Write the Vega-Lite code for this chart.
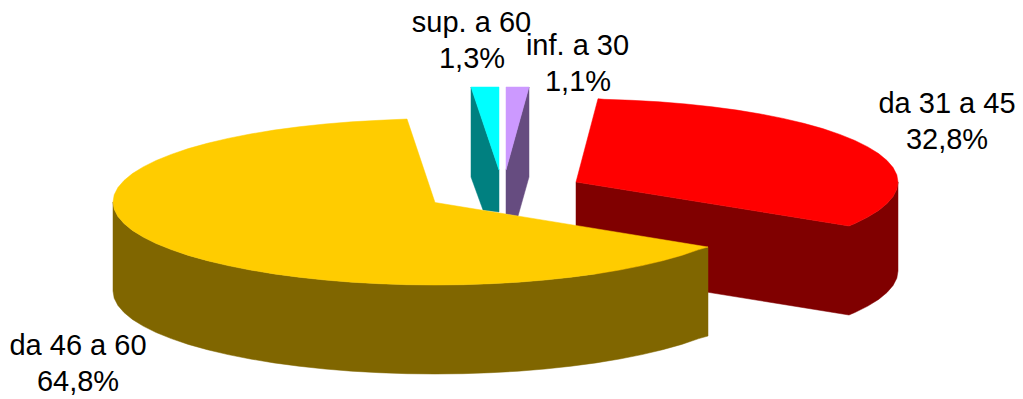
{"$schema":"https://vega.github.io/schema/vega-lite/v6.json","width":1023,"height":399,"padding":0,"autosize":{"type":"fit","contains":"padding"},"background":"white","view":{"stroke":null},
"layer":[
{"data":{"values":[
{"p":"r2","i":0,"x":576,"y":182},{"p":"r2","i":1,"x":849,"y":226},{"p":"r2","i":2,"x":854.9,"y":223.5},{"p":"r2","i":3,"x":867.8,"y":217.1},{"p":"r2","i":4,"x":878.6,"y":210.4},{"p":"r2","i":5,"x":887,"y":203.5},{"p":"r2","i":6,"x":893.1,"y":196.4},{"p":"r2","i":7,"x":896.8,"y":189.2},{"p":"r2","i":8,"x":898,"y":182},{"p":"r2","i":9,"x":898,"y":271},{"p":"r2","i":10,"x":896.8,"y":278.2},{"p":"r2","i":11,"x":893.1,"y":285.4},{"p":"r2","i":12,"x":887,"y":292.5},{"p":"r2","i":13,"x":878.6,"y":299.4},{"p":"r2","i":14,"x":867.8,"y":306.1},{"p":"r2","i":15,"x":854.9,"y":312.5},{"p":"r2","i":16,"x":849,"y":315},{"p":"r2","i":17,"x":576,"y":271},{"p":"r2","i":18,"x":576,"y":182},
{"p":"r1","i":0,"x":576,"y":182},{"p":"r1","i":1,"x":598,"y":98.7},{"p":"r1","i":2,"x":604.1,"y":99.3},{"p":"r1","i":3,"x":631.9,"y":100.3},{"p":"r1","i":4,"x":659.3,"y":101.8},{"p":"r1","i":5,"x":686.1,"y":104},{"p":"r1","i":6,"x":712.1,"y":106.8},{"p":"r1","i":7,"x":737,"y":110.1},{"p":"r1","i":8,"x":760.7,"y":114},{"p":"r1","i":9,"x":783,"y":118.4},{"p":"r1","i":10,"x":803.7,"y":123.3},{"p":"r1","i":11,"x":822.7,"y":128.6},{"p":"r1","i":12,"x":839.8,"y":134.4},{"p":"r1","i":13,"x":854.9,"y":140.5},{"p":"r1","i":14,"x":867.8,"y":146.9},{"p":"r1","i":15,"x":878.6,"y":153.6},{"p":"r1","i":16,"x":887,"y":160.5},{"p":"r1","i":17,"x":893.1,"y":167.6},{"p":"r1","i":18,"x":896.8,"y":174.8},{"p":"r1","i":19,"x":898,"y":182},{"p":"r1","i":20,"x":896.8,"y":189.2},{"p":"r1","i":21,"x":893.1,"y":196.4},{"p":"r1","i":22,"x":887,"y":203.5},{"p":"r1","i":23,"x":878.6,"y":210.4},{"p":"r1","i":24,"x":867.8,"y":217.1},{"p":"r1","i":25,"x":854.9,"y":223.5},{"p":"r1","i":26,"x":849,"y":226},{"p":"r1","i":27,"x":576,"y":182},
{"p":"c2","i":0,"x":471,"y":87},{"p":"c2","i":1,"x":499,"y":170},{"p":"c2","i":2,"x":499,"y":212},{"p":"c2","i":3,"x":483,"y":210},{"p":"c2","i":4,"x":471,"y":177},{"p":"c2","i":5,"x":471,"y":87},
{"p":"c1","i":0,"x":471,"y":87},{"p":"c1","i":1,"x":499,"y":87},{"p":"c1","i":2,"x":499,"y":170},{"p":"c1","i":3,"x":471,"y":87},
{"p":"v2","i":0,"x":529,"y":87},{"p":"v2","i":1,"x":529,"y":177},{"p":"v2","i":2,"x":518,"y":216},{"p":"v2","i":3,"x":506,"y":214},{"p":"v2","i":4,"x":506,"y":170},{"p":"v2","i":5,"x":529,"y":87},
{"p":"v1","i":0,"x":506,"y":87},{"p":"v1","i":1,"x":529,"y":87},{"p":"v1","i":2,"x":506,"y":170},{"p":"v1","i":3,"x":506,"y":87},
{"p":"y2","i":0,"x":113,"y":202},{"p":"y2","i":1,"x":114.2,"y":209.2},{"p":"y2","i":2,"x":117.9,"y":216.4},{"p":"y2","i":3,"x":124,"y":223.5},{"p":"y2","i":4,"x":132.4,"y":230.4},{"p":"y2","i":5,"x":143.2,"y":237.1},{"p":"y2","i":6,"x":156.1,"y":243.5},{"p":"y2","i":7,"x":171.2,"y":249.6},{"p":"y2","i":8,"x":188.3,"y":255.4},{"p":"y2","i":9,"x":207.3,"y":260.7},{"p":"y2","i":10,"x":228,"y":265.6},{"p":"y2","i":11,"x":250.3,"y":270},{"p":"y2","i":12,"x":274,"y":273.9},{"p":"y2","i":13,"x":298.9,"y":277.2},{"p":"y2","i":14,"x":324.9,"y":280},{"p":"y2","i":15,"x":351.7,"y":282.2},{"p":"y2","i":16,"x":379.1,"y":283.7},{"p":"y2","i":17,"x":406.9,"y":284.7},{"p":"y2","i":18,"x":435,"y":285},{"p":"y2","i":19,"x":463.1,"y":284.7},{"p":"y2","i":20,"x":490.9,"y":283.7},{"p":"y2","i":21,"x":518.3,"y":282.2},{"p":"y2","i":22,"x":545.1,"y":280},{"p":"y2","i":23,"x":571.1,"y":277.2},{"p":"y2","i":24,"x":596,"y":273.9},{"p":"y2","i":25,"x":619.7,"y":270},{"p":"y2","i":26,"x":642,"y":265.6},{"p":"y2","i":27,"x":662.7,"y":260.7},{"p":"y2","i":28,"x":681.7,"y":255.4},{"p":"y2","i":29,"x":698.8,"y":249.6},{"p":"y2","i":30,"x":708,"y":247},
{"p":"y2","i":31,"x":708,"y":336},{"p":"y2","i":32,"x":698.8,"y":338.6},{"p":"y2","i":33,"x":681.7,"y":344.4},{"p":"y2","i":34,"x":662.7,"y":349.7},{"p":"y2","i":35,"x":642,"y":354.6},{"p":"y2","i":36,"x":619.7,"y":359},{"p":"y2","i":37,"x":596,"y":362.9},{"p":"y2","i":38,"x":571.1,"y":366.2},{"p":"y2","i":39,"x":545.1,"y":369},{"p":"y2","i":40,"x":518.3,"y":371.2},{"p":"y2","i":41,"x":490.9,"y":372.7},{"p":"y2","i":42,"x":463.1,"y":373.7},{"p":"y2","i":43,"x":435,"y":374},{"p":"y2","i":44,"x":406.9,"y":373.7},{"p":"y2","i":45,"x":379.1,"y":372.7},{"p":"y2","i":46,"x":351.7,"y":371.2},{"p":"y2","i":47,"x":324.9,"y":369},{"p":"y2","i":48,"x":298.9,"y":366.2},{"p":"y2","i":49,"x":274,"y":362.9},{"p":"y2","i":50,"x":250.3,"y":359},{"p":"y2","i":51,"x":228,"y":354.6},{"p":"y2","i":52,"x":207.3,"y":349.7},{"p":"y2","i":53,"x":188.3,"y":344.4},{"p":"y2","i":54,"x":171.2,"y":338.6},{"p":"y2","i":55,"x":156.1,"y":332.5},{"p":"y2","i":56,"x":143.2,"y":326.1},{"p":"y2","i":57,"x":132.4,"y":319.4},{"p":"y2","i":58,"x":124,"y":312.5},{"p":"y2","i":59,"x":117.9,"y":305.4},{"p":"y2","i":60,"x":114.2,"y":298.2},{"p":"y2","i":61,"x":113,"y":291},{"p":"y2","i":62,"x":113,"y":202},
{"p":"y1","i":0,"x":435,"y":202.5},{"p":"y1","i":1,"x":708,"y":247},{"p":"y1","i":2,"x":698.8,"y":249.6},{"p":"y1","i":3,"x":681.7,"y":255.4},{"p":"y1","i":4,"x":662.7,"y":260.7},{"p":"y1","i":5,"x":642,"y":265.6},{"p":"y1","i":6,"x":619.7,"y":270},{"p":"y1","i":7,"x":596,"y":273.9},{"p":"y1","i":8,"x":571.1,"y":277.2},{"p":"y1","i":9,"x":545.1,"y":280},{"p":"y1","i":10,"x":518.3,"y":282.2},{"p":"y1","i":11,"x":490.9,"y":283.7},{"p":"y1","i":12,"x":463.1,"y":284.7},{"p":"y1","i":13,"x":435,"y":285},{"p":"y1","i":14,"x":406.9,"y":284.7},{"p":"y1","i":15,"x":379.1,"y":283.7},{"p":"y1","i":16,"x":351.7,"y":282.2},{"p":"y1","i":17,"x":324.9,"y":280},{"p":"y1","i":18,"x":298.9,"y":277.2},{"p":"y1","i":19,"x":274,"y":273.9},{"p":"y1","i":20,"x":250.3,"y":270},{"p":"y1","i":21,"x":228,"y":265.6},{"p":"y1","i":22,"x":207.3,"y":260.7},{"p":"y1","i":23,"x":188.3,"y":255.4},{"p":"y1","i":24,"x":171.2,"y":249.6},{"p":"y1","i":25,"x":156.1,"y":243.5},{"p":"y1","i":26,"x":143.2,"y":237.1},{"p":"y1","i":27,"x":132.4,"y":230.4},{"p":"y1","i":28,"x":124,"y":223.5},{"p":"y1","i":29,"x":117.9,"y":216.4},{"p":"y1","i":30,"x":114.2,"y":209.2},{"p":"y1","i":31,"x":113,"y":202},{"p":"y1","i":32,"x":114.2,"y":194.8},{"p":"y1","i":33,"x":117.9,"y":187.6},{"p":"y1","i":34,"x":124,"y":180.5},{"p":"y1","i":35,"x":132.4,"y":173.6},{"p":"y1","i":36,"x":143.2,"y":166.9},{"p":"y1","i":37,"x":156.1,"y":160.5},{"p":"y1","i":38,"x":171.2,"y":154.4},{"p":"y1","i":39,"x":188.3,"y":148.6},{"p":"y1","i":40,"x":207.3,"y":143.3},{"p":"y1","i":41,"x":228,"y":138.4},{"p":"y1","i":42,"x":250.3,"y":134},{"p":"y1","i":43,"x":274,"y":130.1},{"p":"y1","i":44,"x":298.9,"y":126.8},{"p":"y1","i":45,"x":324.9,"y":124},{"p":"y1","i":46,"x":351.7,"y":121.8},{"p":"y1","i":47,"x":379.1,"y":120.3},{"p":"y1","i":48,"x":407,"y":119},{"p":"y1","i":49,"x":435,"y":202.5}
]},
"mark":{"type":"line","strokeWidth":0.5},
"encoding":{
"x":{"field":"x","type":"quantitative","scale":{"domain":[0,1023]},"axis":null},
"y":{"field":"y","type":"quantitative","scale":{"domain":[399,0]},"axis":null},
"order":{"field":"i","type":"ordinal"},
"detail":{"field":"p"},
"fill":{"field":"p","type":"nominal","legend":null,"scale":{"domain":["r1","r2","c1","c2","v1","v2","y1","y2"],"range":["#FF0000","#800000","#00FFFF","#008080","#CC99FF","#664C80","#FFCC00","#806600"]}},
"stroke":{"field":"p","type":"nominal","legend":null,"scale":{"domain":["r1","r2","c1","c2","v1","v2","y1","y2"],"range":["#FF0000","#800000","#00FFFF","#008080","#CC99FF","#664C80","#FFCC00","#806600"]}}
}},
{"data":{"values":[
{"t":"sup. a 60","x":471.5,"y":32},{"t":"1,3%","x":472,"y":68},
{"t":"inf. a 30","x":577.5,"y":55},{"t":"1,1%","x":578,"y":91},
{"t":"da 31 a 45","x":947,"y":113},{"t":"32,8%","x":947,"y":149},
{"t":"da 46 a 60","x":78,"y":355},{"t":"64,8%","x":78,"y":391}
]},
"mark":{"type":"text","font":"Liberation Sans","fontSize":29,"align":"center","baseline":"alphabetic","color":"#000000"},
"encoding":{
"x":{"field":"x","type":"quantitative","scale":{"domain":[0,1023]},"axis":null},
"y":{"field":"y","type":"quantitative","scale":{"domain":[399,0]},"axis":null},
"text":{"field":"t"}
}}
]}
